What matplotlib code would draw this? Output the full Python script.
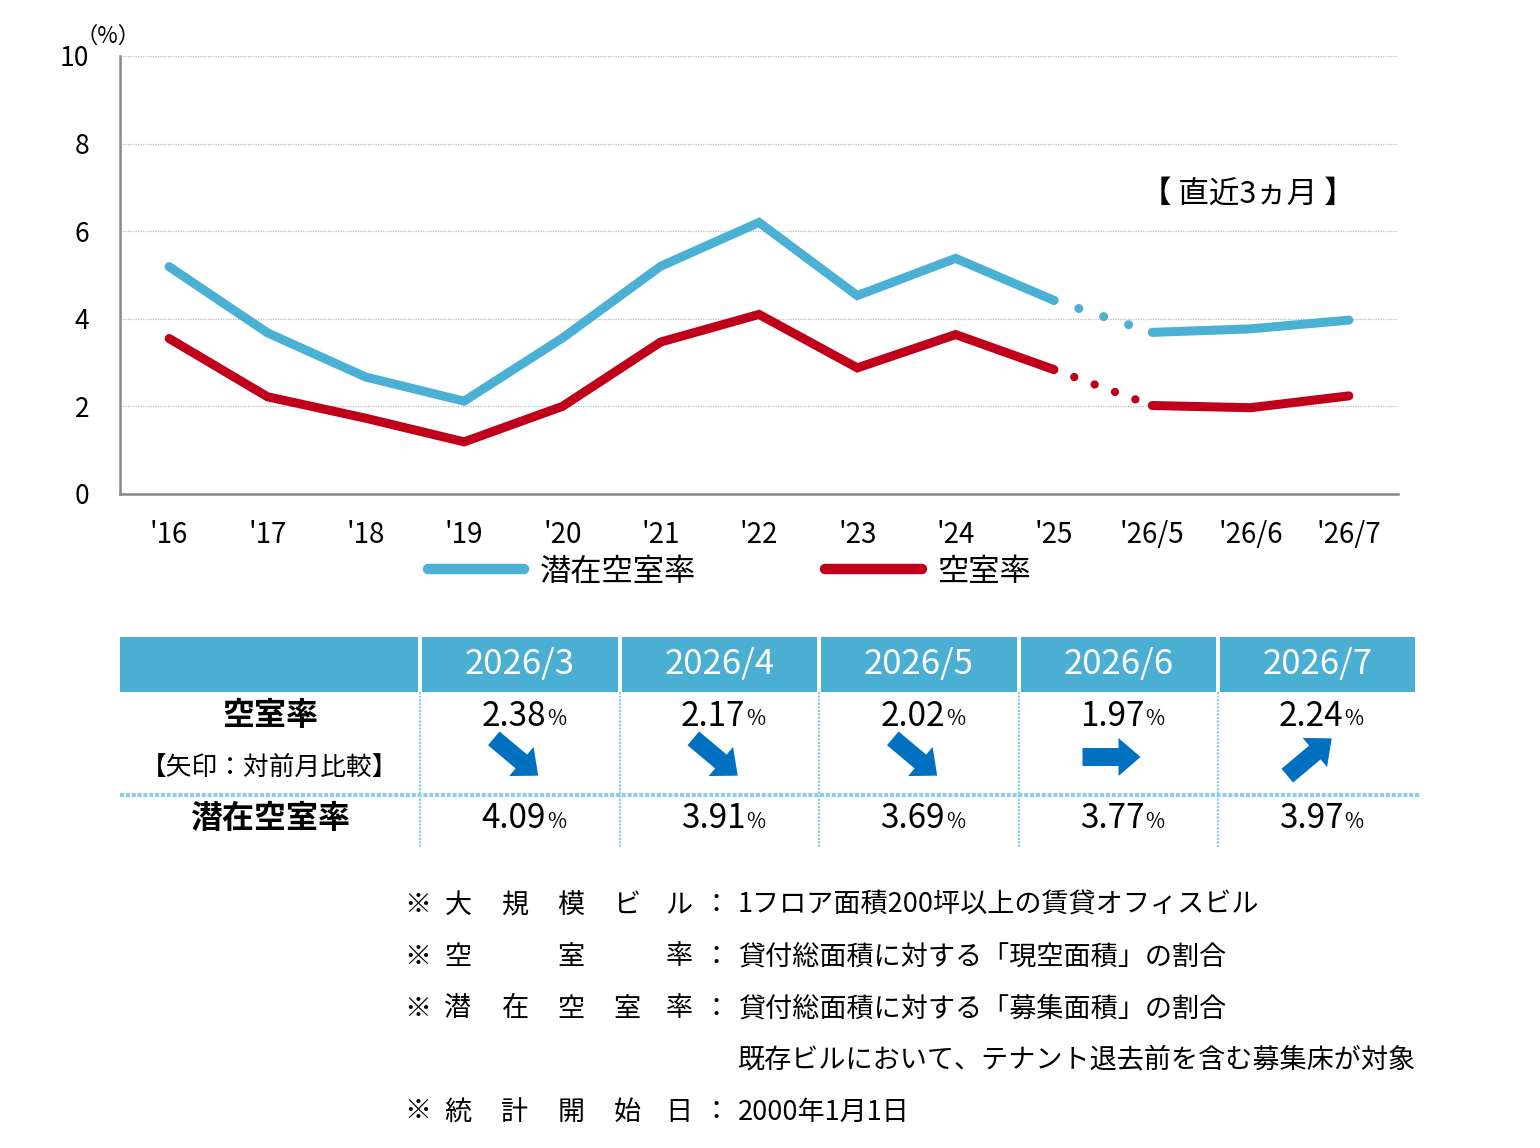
import numpy as np
import matplotlib
matplotlib.use("Agg")
import matplotlib.pyplot as plt
from matplotlib.patches import Rectangle, FancyArrow

plt.rcParams['font.family'] = ['Noto Sans CJK JP', 'DejaVu Sans']

# ---------------- data ----------------
categories = ["'16", "'17", "'18", "'19", "'20", "'21", "'22", "'23", "'24", "'25", "'26/5", "'26/6", "'26/7"]
potential_vacancy = [5.19, 3.68, 2.67, 2.12, 3.56, 5.2, 6.2, 4.53, 5.38, 4.42, 3.69, 3.77, 3.97]
vacancy = [3.55, 2.22, 1.73, 1.19, 2.0, 3.47, 4.1, 2.88, 3.64, 2.84, 2.02, 1.97, 2.24]
yticks = [0, 2, 4, 6, 8, 10]
series_names = ["潜在空室率", "空室率"]
period_note = "【 直近3ヵ月 】"

table_months = ["2026/3", "2026/4", "2026/5", "2026/6", "2026/7"]
table_vacancy = ["2.38", "2.17", "2.02", "1.97", "2.24"]
table_potential = ["4.09", "3.91", "3.69", "3.77", "3.97"]
arrow_dirs = ["down", "down", "down", "flat", "up"]
row_labels = ["空室率", "【矢印：対前月比較】", "潜在空室率"]

note_labels = [["大", "規", "模", "ビ", "ル"],
               ["空", "", "室", "", "率"],
               ["潜", "在", "空", "室", "率"],
               None,
               ["統", "計", "開", "始", "日"]]
note_texts = ["1フロア面積200坪以上の賃貸オフィスビル",
              "貸付総面積に対する「現空面積」の割合",
              "貸付総面積に対する「募集面積」の割合",
              "既存ビルにおいて、テナント退去前を含む募集床が対象",
              "2000年1月1日"]

BLUE = "#4BB1D4"
RED = "#C0001A"
HEAD = "#4BAFD3"
ARROW = "#0070C0"
SEP = "#8FCFE5"

W, H = 1540, 1148
fig = plt.figure(figsize=(W / 100, H / 100), dpi=100)

# ---------------- line chart ----------------
ax = fig.add_axes([120 / W, 1 - 494 / H, (1398 - 120) / W, (494 - 56) / H])
x = np.arange(len(categories))
split = 9
ax.plot(x[:split + 1], potential_vacancy[:split + 1], color=BLUE, lw=6.5, solid_capstyle='round', solid_joinstyle='miter')
ax.plot(x[split + 1:], potential_vacancy[split + 1:], color=BLUE, lw=6.5, solid_capstyle='round', solid_joinstyle='miter')
ax.plot(x[split:split + 2], potential_vacancy[split:split + 2], color=BLUE, lw=6.5,
        linestyle=(0, (0.001, 2.9)), dash_capstyle='round')
ax.plot(x[:split + 1], vacancy[:split + 1], color=RED, lw=6.5, solid_capstyle='round', solid_joinstyle='miter')
ax.plot(x[split + 1:], vacancy[split + 1:], color=RED, lw=6.5, solid_capstyle='round', solid_joinstyle='miter')
ax.plot(x[split:split + 2], vacancy[split:split + 2], color=RED, lw=6.0,
        linestyle=(0, (0.001, 2.6)), dash_capstyle='round')

ax.set_xlim(-0.5, len(categories) - 0.5)
ax.set_ylim(0, 10)
ax.set_yticks(yticks)
ax.set_yticklabels([str(v) for v in yticks], fontsize=19)
ax.set_xticks(x)
ax.set_xticklabels(categories, fontsize=20)
ax.tick_params(axis='both', length=0, colors='black')
ax.tick_params(axis='y', pad=22)
ax.tick_params(axis='x', pad=19)
for yv in yticks[1:]:
    ax.axhline(yv, color='#BBBBBB', lw=0.9, ls=(0, (1, 1)), zorder=0)
for s in ['top', 'right']:
    ax.spines[s].set_visible(False)
for s in ['left', 'bottom']:
    ax.spines[s].set_color('#888888')
    ax.spines[s].set_linewidth(1.8)

# ---------------- overlay (pixel coords) ----------------
ov = fig.add_axes([0, 0, 1, 1], zorder=5)
ov.set_xlim(0, W)
ov.set_ylim(H, 0)
ov.axis('off')
ov.patch.set_alpha(0)

ov.text(108, 36, "（%）", fontsize=16, ha='center', va='center')
ov.text(1248, 194, period_note, fontsize=22, ha='center', va='center')

# legend
ov.plot([428, 524], [569, 569], color=BLUE, lw=7.5, solid_capstyle='round')
ov.text(540, 572, series_names[0], fontsize=22.5, ha='left', va='center')
ov.plot([825, 922], [569, 569], color=RED, lw=7.5, solid_capstyle='round')
ov.text(937, 572, series_names[1], fontsize=22.5, ha='left', va='center')

# table
bounds = [120, 420, 620, 819, 1019, 1218, 1417]
top, hb, mid, bot = 637, 692, 795, 848
for i in range(len(bounds) - 1):
    x0 = bounds[i] + (2 if i > 0 else 0)
    x1 = bounds[i + 1] - 2
    ov.add_patch(Rectangle((x0, top), x1 - x0, hb - top, color=HEAD, lw=0))
for i, m in enumerate(table_months):
    cx = (bounds[i + 1] + bounds[i + 2]) / 2
    ov.text(cx, 664, m, fontsize=25, color='white', ha='center', va='center')
    ov.text(cx + 26, 716, table_vacancy[i], fontsize=24, ha='right', va='center')
    ov.text(cx + 27, 719, "%", fontsize=15, ha='left', va='center')
    ov.text(cx + 26, 819, table_potential[i], fontsize=24, ha='right', va='center')
    ov.text(cx + 27, 822, "%", fontsize=15, ha='left', va='center')
    ay = 757
    d = arrow_dirs[i]
    if d == "flat":
        ang = 0.0
        acx = cx - 7
    elif d == "down":
        ang = -40.0
        acx = cx - 4
    else:
        ang = 40.0
        acx = cx - 8
    L = 58
    dxv = L * np.cos(np.radians(ang))
    dyv = -L * np.sin(np.radians(ang))
    ov.add_patch(FancyArrow(acx - dxv / 2, ay - dyv / 2, dxv, dyv, width=18, head_width=38,
                            head_length=22, length_includes_head=True, color=ARROW, lw=0))
for xb in bounds[1:-1]:
    ov.plot([xb, xb], [hb, bot], color=SEP, lw=1.6, ls=(0, (1, 0.6)))
ov.plot([120, 1420], [mid, mid], color=SEP, lw=3, ls=(0, (1, 0.4)))

ov.text(270, 716, row_labels[0], fontsize=23, fontweight='bold', ha='center', va='center')
ov.text(270, 768, row_labels[1], fontsize=18.5, ha='center', va='center')
ov.text(270, 819, row_labels[2], fontsize=23, fontweight='bold', ha='center', va='center')

# footnotes
char_x = [458, 515, 571, 627, 679]
line_y = [905, 957, 1009, 1060, 1112]
for j, yv in enumerate(line_y):
    lab = note_labels[j]
    if lab is not None:
        ov.text(418, yv, "※", fontsize=19.5, ha='center', va='center')
        for cxx, ch in zip(char_x, lab):
            if ch:
                ov.text(cxx, yv, ch, fontsize=19.5, ha='center', va='center')
        ov.text(716, yv, "：", fontsize=19.5, ha='center', va='center')
    ov.text(738, yv, note_texts[j], fontsize=19.5, ha='left', va='center')

fig.savefig("out.png", dpi=100, facecolor='white')
